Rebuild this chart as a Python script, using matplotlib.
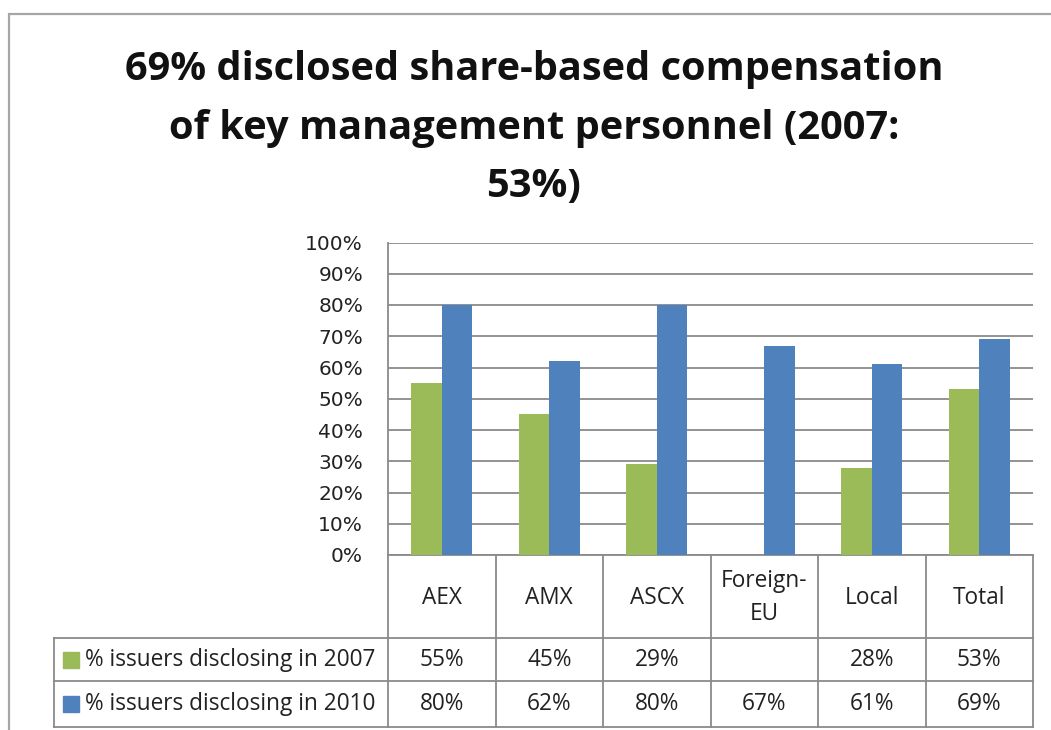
import numpy as np
import matplotlib.pyplot as plt
from matplotlib.patches import Rectangle

# data
categories = ['AEX', 'AMX', 'ASCX', 'Foreign-\nEU', 'Local', 'Total']
pct_2007 = [55, 45, 29, np.nan, 28, 53]
pct_2010 = [80, 62, 80, 67, 61, 69]
series_names = ['% issuers disclosing in 2007', '% issuers disclosing in 2010']
yticks = [0, 10, 20, 30, 40, 50, 60, 70, 80, 90, 100]
title_lines = ['69% disclosed share-based compensation',
               'of key management personnel (2007:',
               '53%)']

green = '#9BBB59'
blue = '#4F81BD'
grid_c = '#8a8a8a'

W, H = 1051, 730
fig = plt.figure(figsize=(W / 100, H / 100), dpi=100)

# plot area in pixels
px_l, px_r, px_t, px_b = 388, 1033, 242.5, 555
ax = fig.add_axes([px_l / W, 1 - px_b / H, (px_r - px_l) / W, (px_b - px_t) / H])

x = np.arange(len(categories))
w = 0.284
ax.bar(x - w / 2, pct_2007, w, color=green, zorder=3)
ax.bar(x + w / 2, pct_2010, w, color=blue, zorder=3)

ax.set_xlim(-0.5, len(categories) - 0.5)
ax.set_ylim(0, 100)
ax.set_yticks(yticks)
ax.set_yticklabels(['%d%%' % t for t in yticks], fontsize=14.5,
                   family='DejaVu Sans', color='#222222')
ax.tick_params(axis='y', length=0, pad=18)
ax.set_xticks([])
ax.yaxis.grid(True, color=grid_c, lw=1.3, zorder=0)
for s in ['right', 'top']:
    ax.spines[s].set_visible(False)
for s in ['left', 'bottom']:
    ax.spines[s].set_color(grid_c)
    ax.spines[s].set_linewidth(1.3)

# data table below the plot
def fy(py):
    return (px_b - py) / (px_b - px_t)

row_lines = [555, 638, 681, 727]
leg_left = (54 - px_l) / (px_r - px_l)
tb = ax.get_xaxis_transform()
lc = dict(color=grid_c, lw=1.3, clip_on=False, transform=tb)

for i in range(len(categories) + 1):
    ax.plot([i - 0.5, i - 0.5], [fy(row_lines[0]), fy(row_lines[-1])], **lc)
for py in row_lines[1:]:
    ax.plot([-0.5, len(categories) - 0.5], [fy(py), fy(py)], **lc)
    ax.plot([leg_left, 0], [fy(py), fy(py)], color=grid_c, lw=1.3,
            clip_on=False, transform=ax.transAxes)
ax.plot([leg_left, leg_left], [fy(row_lines[1]), fy(row_lines[-1])],
        color=grid_c, lw=1.3, clip_on=False, transform=ax.transAxes)

tfont = dict(family='Open Sans', fontsize=16.3, color='#222222')
yc_head = fy((row_lines[0] + row_lines[1]) / 2 + 1)
for i, c in enumerate(categories):
    ax.text(i, yc_head, c, ha='center', va='center', transform=tb,
            linespacing=1.55, **tfont)

for r, (vals, name, col) in enumerate(zip([pct_2007, pct_2010], series_names,
                                           [green, blue])):
    mid = (row_lines[r + 1] + row_lines[r + 2]) / 2
    yc = fy(mid)
    for i, v in enumerate(vals):
        if not np.isnan(v):
            ax.text(i, yc, '%d%%' % v, ha='center', va='center', transform=tb, **tfont)
    fig.patches.append(Rectangle((63 / W, 1 - (mid + 8) / H), 16 / W, 16 / H,
                                 color=col, transform=fig.transFigure))
    fig.text(85 / W, 1 - mid / H, name, ha='left', va='center', **tfont)

# title
for k, line in enumerate(title_lines):
    fig.text(534 / W, 1 - (80 + 58.5 * k) / H, line, ha='center', va='baseline',
             family='Open Sans', fontweight='bold', fontsize=28.6, color='#111111')

# outer chart border
fig.patches.append(Rectangle((9 / W, -0.1), 1.2, 1 - 14 / H + 0.1, fill=False,
                             edgecolor='#a6a6a6', lw=1.6, transform=fig.transFigure))

fig.savefig('out.png', dpi=100)
